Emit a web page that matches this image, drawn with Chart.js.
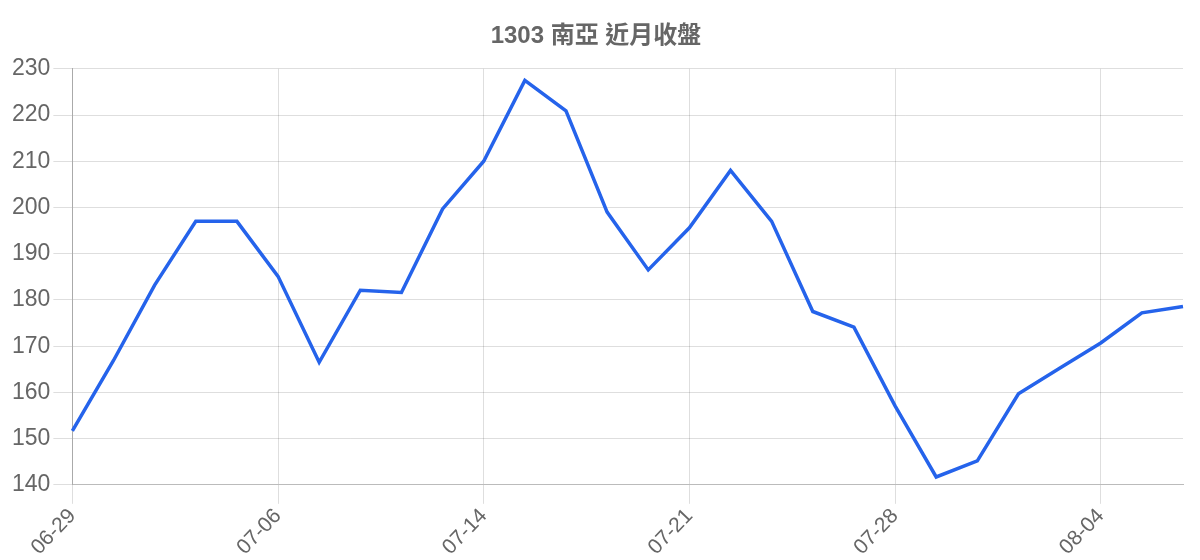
<!DOCTYPE html>
<html>
<head>
<meta charset="utf-8">
<script src="https://cdn.jsdelivr.net/npm/chart.js@4"></script>
<style>
html,body{margin:0;padding:0;background:#fff;}
#wrap{width:1200px;height:560px;}
</style>
</head>
<body>
<div id="wrap"><canvas id="c" width="1200" height="560"></canvas></div>
<script>
const titleText = "1303 南亞 近月收盤";
const dates = ["06-29","06-30","07-03","07-04","07-05","07-06","07-07","07-10","07-11","07-12",
  "07-14","07-17","07-18","07-19","07-20","07-21","07-24","07-25","07-26","07-27",
  "07-28","07-31","08-01","08-02","08-03","08-04","08-07","08-08"];
const closes = [151.7,166.9,183.2,197,197,185.1,166.5,182.1,181.6,199.7,
  210,227.5,220.9,199,186.5,195.6,208,197,177.5,174.1,
  157.1,141.7,145.2,159.7,165.2,170.7,177.2,178.6];
const yMin = 140, yMax = 230, yStep = 10;

const fontFam = "'Liberation Sans', Arial, 'Noto Sans CJK TC', sans-serif";
new Chart(document.getElementById('c'), {
  type: 'line',
  data: {
    labels: dates,
    datasets: [{
      data: closes,
      borderColor: '#2563eb',
      borderWidth: 3.5,
      pointRadius: 0,
      tension: 0,
      fill: false
    }]
  },
  options: {
    responsive: false,
    animation: false,
    layout: { padding: { left: 9, right: 17, top: 0, bottom: 0 } },
    plugins: {
      legend: { display: false },
      tooltip: { enabled: false },
      title: {
        display: true,
        text: titleText,
        color: '#666',
        font: { family: fontFam, size: 24, weight: 'bold' },
        padding: { top: 22, bottom: 18 }
      }
    },
    scales: {
      x: {
        grid: { color: 'rgba(0,0,0,0.13)', tickLength: 19 },
        border: { color: '#bbb' },
        ticks: {
          color: '#666',
          padding: 0,
          font: { family: fontFam, size: 21 },
          minRotation: 46, maxRotation: 46,
          autoSkip: true,
          callback: function(v, i) { return i % 5 === 0 ? this.getLabelForValue(v) : null; }
        }
      },
      y: {
        min: yMin, max: yMax,
        grid: { color: 'rgba(0,0,0,0.13)', tickLength: 19 },
        border: { color: '#aaa' },
        ticks: {
          stepSize: yStep,
          color: '#666',
          padding: 3,
          font: { family: fontFam, size: 23 }
        }
      }
    }
  }
});
</script>
</body>
</html>
